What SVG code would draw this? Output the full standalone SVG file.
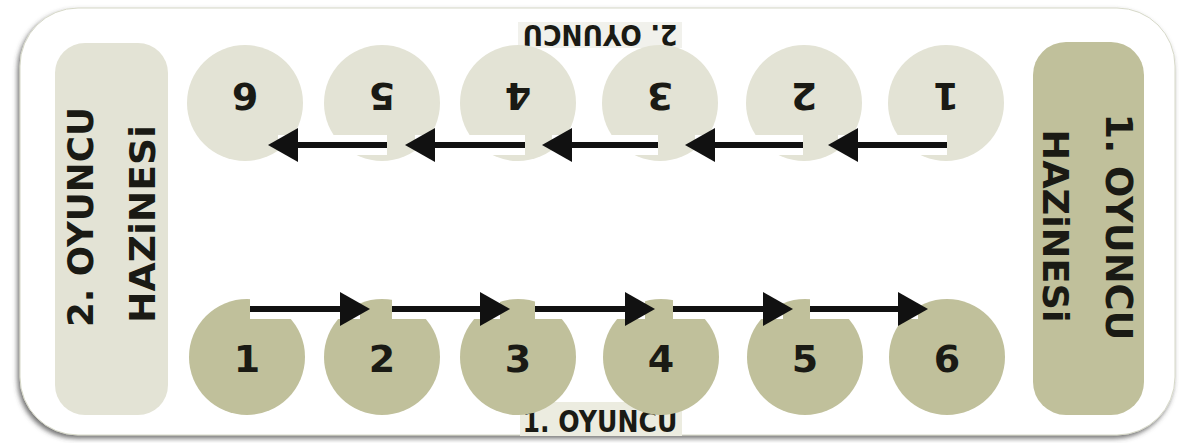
<svg xmlns="http://www.w3.org/2000/svg" width="1179" height="443" viewBox="0 0 1179 443">
<defs>
<filter id="sh" x="-5%" y="-10%" width="110%" height="120%">
<feDropShadow dx="-2" dy="3" stdDeviation="2.5" flood-color="#444" flood-opacity="0.75"/>
</filter>
<marker id="ah" viewBox="0 0 30 34" markerWidth="30" markerHeight="34" refX="10" refY="17" orient="auto" markerUnits="userSpaceOnUse">
<path d="M0,0 L30,17 L0,34 Z" fill="#111"/>
</marker>
<style>
.t{font-family:"DejaVu Sans","Liberation Sans",sans-serif;font-weight:bold;fill:#1a1a14;text-anchor:middle}
.dig{font-size:38px}
.olive{fill:#c0c09b}
.light{fill:#e3e3d5}
.halo{stroke:#fff;stroke-width:20;fill:none}
.arr{stroke:#111;stroke-width:6;fill:none;marker-end:url(#ah)}
</style>
</defs>
<rect x="0" y="0" width="1179" height="443" fill="#fff"/>
<rect id="frame" x="20" y="8" width="1155" height="427" rx="58" fill="#fff" stroke="#d6d8c8" stroke-width="1" filter="url(#sh)"/>

<g id="box-p2">
<rect x="55" y="43" width="113" height="372" rx="30" class="light"/>
<text class="t" font-size="36" transform="translate(93,217) rotate(-90)" textLength="220" lengthAdjust="spacingAndGlyphs">2. OYUNCU</text>
<text class="t" font-size="35" transform="translate(155,224) rotate(-90)" textLength="198" lengthAdjust="spacingAndGlyphs">HAZiNESi</text>
</g>
<g id="box-p1">
<rect x="1033" y="42" width="111" height="373" rx="33" class="olive"/>
<text class="t" font-size="37" transform="translate(1106,227) rotate(90)" textLength="227" lengthAdjust="spacingAndGlyphs">1. OYUNCU</text>
<text class="t" font-size="35" transform="translate(1043,226) rotate(90)" textLength="193" lengthAdjust="spacingAndGlyphs">HAZiNESi</text>
</g>

<g id="label-top">
<rect x="518" y="22" width="164" height="26" fill="#f1f1ec"/>
<text class="t" font-size="29" transform="translate(600,25) rotate(180)" textLength="155" lengthAdjust="spacingAndGlyphs">2. OYUNCU</text>
</g>
<g id="label-bottom">
<rect x="520" y="402" width="162" height="34" fill="#ecece0"/>
<text class="t" font-size="30" x="600" y="432" textLength="155" lengthAdjust="spacingAndGlyphs">1. OYUNCU</text>
</g>

<g id="n-top-1"><circle cx="946" cy="103" r="58" class="light"/><text class="t dig" transform="translate(946,97) rotate(180)" y="14">1</text></g>
<g id="n-top-2"><circle cx="804" cy="103" r="58" class="light"/><text class="t dig" transform="translate(804,97) rotate(180)" y="14">2</text></g>
<g id="n-top-3"><circle cx="660" cy="103" r="58" class="light"/><text class="t dig" transform="translate(660,97) rotate(180)" y="14">3</text></g>
<g id="n-top-4"><circle cx="518" cy="103" r="58" class="light"/><text class="t dig" transform="translate(518,97) rotate(180)" y="14">4</text></g>
<g id="n-top-5"><circle cx="382" cy="103" r="58" class="light"/><text class="t dig" transform="translate(382,97) rotate(180)" y="14">5</text></g>
<g id="n-top-6"><circle cx="245" cy="103" r="58" class="light"/><text class="t dig" transform="translate(245,97) rotate(180)" y="14">6</text></g>

<g id="n-bot-1"><circle cx="247" cy="357" r="58" class="olive"/><text class="t dig" x="247" y="372">1</text></g>
<g id="n-bot-2"><circle cx="382" cy="357" r="58" class="olive"/><text class="t dig" x="382" y="372">2</text></g>
<g id="n-bot-3"><circle cx="518" cy="357" r="58" class="olive"/><text class="t dig" x="518" y="372">3</text></g>
<g id="n-bot-4"><circle cx="661" cy="357" r="58" class="olive"/><text class="t dig" x="661" y="372">4</text></g>
<g id="n-bot-5"><circle cx="805" cy="357" r="58" class="olive"/><text class="t dig" x="805" y="372">5</text></g>
<g id="n-bot-6"><circle cx="947" cy="357" r="58" class="olive"/><text class="t dig" x="947" y="372">6</text></g>

<g id="connectors">
<path class="halo" d="M947,145H838 M803,145H695 M658,145H552 M525,145H415 M387,145H278"/>
<path class="halo" d="M250,309H360 M392,309H500 M535,309H645 M673,309H783 M810,309H918"/>
<path class="arr" d="M947,145H848"/>
<path class="arr" d="M803,145H705"/>
<path class="arr" d="M658,145H562"/>
<path class="arr" d="M525,145H425"/>
<path class="arr" d="M387,145H288"/>
<path class="arr" d="M250,309H350"/>
<path class="arr" d="M392,309H490"/>
<path class="arr" d="M535,309H635"/>
<path class="arr" d="M673,309H773"/>
<path class="arr" d="M810,309H908"/>
</g>
</svg>
